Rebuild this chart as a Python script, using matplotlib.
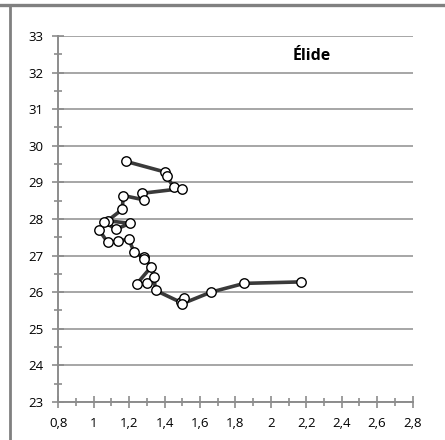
import matplotlib

matplotlib.use("Agg")

import matplotlib.pyplot as plt
from matplotlib.lines import Line2D
from matplotlib.ticker import FuncFormatter, MultipleLocator


TITLE = "Élide"

# Trajectory points, in drawing order
X_VALUES = [
    1.184, 1.404, 1.412, 1.453, 1.498, 1.272, 1.285, 1.167, 1.161, 1.078,
    1.205, 1.126, 1.058, 1.030, 1.079, 1.137, 1.197, 1.229, 1.284, 1.285,
    1.326, 1.242, 1.299, 1.340, 1.349, 1.492, 1.511, 1.498, 1.662, 1.850,
    2.168,
]
Y_VALUES = [
    29.57, 29.28, 29.16, 28.86, 28.83, 28.70, 28.52, 28.64, 28.26, 27.95,
    27.88, 27.72, 27.92, 27.70, 27.36, 27.39, 27.45, 27.09, 26.95, 26.91,
    26.70, 26.22, 26.24, 26.42, 26.05, 25.72, 25.83, 25.68, 26.00, 26.24,
    26.28,
]

X_LIMITS = (0.8, 2.8)
Y_LIMITS = (23, 33)


def comma_format(value, _pos):
    return f"{round(value, 1):g}".replace(".", ",")


def main():
    plt.rcParams["font.family"] = ["Open Sans", "DejaVu Sans"]

    fig = plt.figure(figsize=(4.45, 4.40), dpi=100)
    ax = fig.add_axes([0.131, 0.0864, 0.796, 0.832])

    ax.plot(
        X_VALUES,
        Y_VALUES,
        color="#3a3a3a",
        linewidth=2.6,
        marker="o",
        markersize=6.8,
        markerfacecolor="white",
        markeredgecolor="black",
        markeredgewidth=1.0,
        solid_joinstyle="round",
        zorder=3,
    )

    ax.set_xlim(*X_LIMITS)
    ax.set_ylim(*Y_LIMITS)

    ax.xaxis.set_major_locator(MultipleLocator(0.2))
    ax.xaxis.set_minor_locator(MultipleLocator(0.1))
    ax.yaxis.set_major_locator(MultipleLocator(1))
    ax.yaxis.set_minor_locator(MultipleLocator(0.5))
    ax.xaxis.set_major_formatter(FuncFormatter(comma_format))

    axis_color = "#8c8c8c"
    ax.grid(axis="y", which="major", color="#a6a6a6", linewidth=1.4, zorder=0)
    ax.set_axisbelow(True)
    for side in ("top", "right"):
        ax.spines[side].set_visible(False)
    for side in ("left", "bottom"):
        ax.spines[side].set_color(axis_color)
        ax.spines[side].set_linewidth(1.4)

    ax.tick_params(which="major", direction="inout", length=9, width=1.2,
                   color=axis_color, labelsize=9.5, labelcolor="black")
    ax.tick_params(which="minor", direction="inout", length=6, width=1.2,
                   color=axis_color)
    ax.tick_params(axis="y", which="major", pad=6)
    ax.tick_params(axis="x", which="major", pad=6)

    ax.text(0.716, 0.945, TITLE, transform=ax.transAxes, ha="center",
            va="center", fontsize=11.5, fontweight="bold")

    # outer chart frame (top and left edges only visible in the crop)
    fig.add_artist(Line2D([0, 1], [1 - 5.5 / 440] * 2, color="#808080",
                          linewidth=2.4, transform=fig.transFigure))
    fig.add_artist(Line2D([10 / 445] * 2, [0, 1 - 5.5 / 440], color="#808080",
                          linewidth=2.0, transform=fig.transFigure))

    fig.savefig("out.png", dpi=100)
    plt.close(fig)


if __name__ == "__main__":
    main()
